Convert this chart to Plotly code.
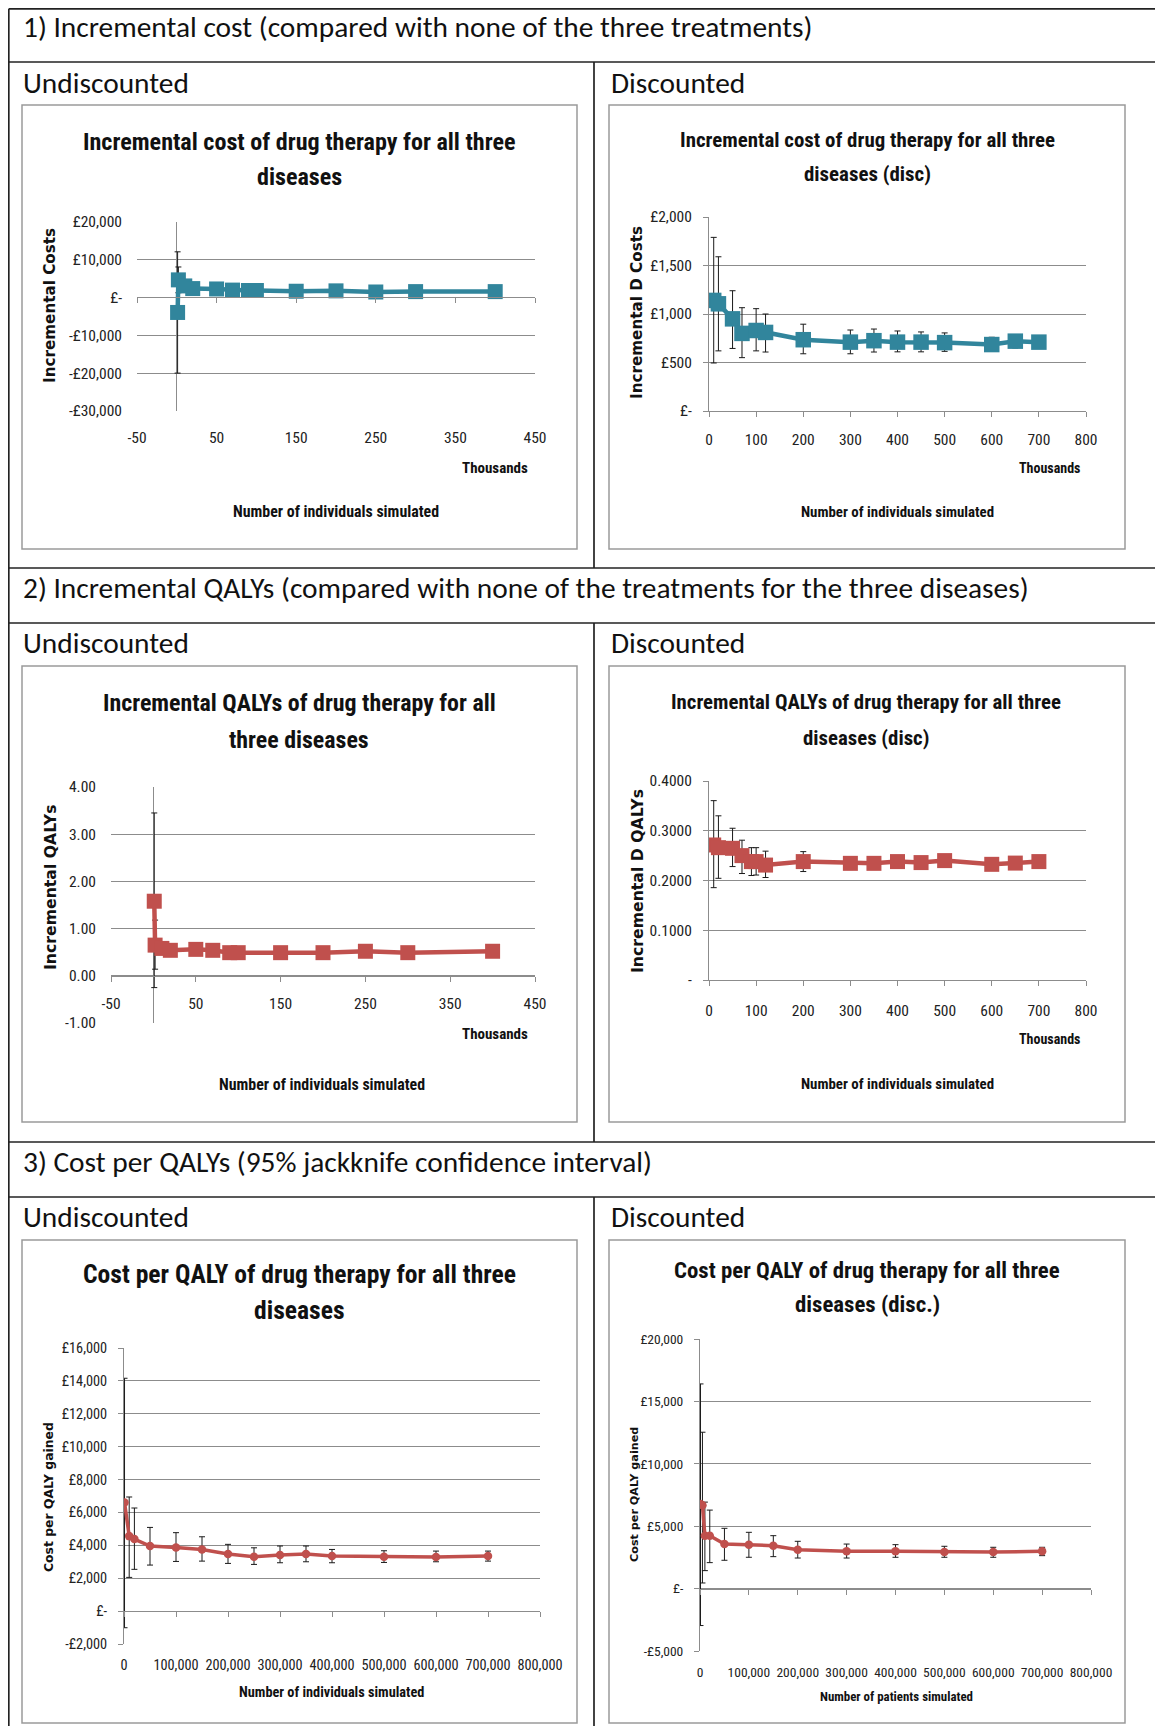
import plotly.graph_objects as go

# ---------------- data ----------------
# 1) Incremental cost, undiscounted (x in thousands)
x1 = [1, 2, 10, 20, 50, 70, 90, 100, 150, 200, 250, 300, 400]
y1 = [-4000, 4600, 3000, 2300, 2200, 1900, 1800, 1800, 1600, 1700, 1400, 1500, 1500]
up1 = [12000, 8000, 3600, 2900, 2800, 2400, 2300, 2300, 2000, 2100, 1800, 1900, 1900]
lo1 = [-20000, 1200, 2400, 1700, 1600, 1400, 1300, 1300, 1200, 1300, 1000, 1100, 1100]

# 1) Incremental cost, discounted
x2 = [10, 20, 50, 70, 100, 120, 200, 300, 350, 400, 450, 500, 600, 650, 700]
y2 = [1140, 1105, 950, 800, 830, 810, 735, 710, 725, 710, 710, 705, 685, 720, 710]
up2 = [1790, 1590, 1240, 1065, 1055, 1000, 895, 835, 845, 825, 815, 805, 760, 760, 750]
lo2 = [495, 620, 645, 550, 620, 608, 590, 590, 608, 610, 610, 615, 620, 650, 670]

# 2) Incremental QALYs, undiscounted
x3 = [1, 2, 10, 20, 50, 70, 90, 100, 150, 200, 250, 300, 400]
y3 = [1.58, 0.65, 0.58, 0.54, 0.56, 0.54, 0.49, 0.49, 0.49, 0.49, 0.52, 0.49, 0.52]
up3 = [3.45, 1.18, 0.68, 0.62, 0.63, 0.60, 0.55, 0.55, 0.54, 0.54, 0.57, 0.54, 0.56]
lo3 = [-0.25, 0.14, 0.48, 0.46, 0.49, 0.48, 0.43, 0.43, 0.44, 0.44, 0.47, 0.44, 0.48]

# 2) Incremental QALYs, discounted
x4 = [10, 20, 50, 70, 90, 100, 120, 200, 300, 350, 400, 450, 500, 600, 650, 700]
y4 = [0.2714, 0.266, 0.2647, 0.250, 0.238, 0.238, 0.231, 0.238, 0.2345, 0.2345, 0.238, 0.236, 0.240, 0.2325, 0.235, 0.238]
up4 = [0.3605, 0.330, 0.305, 0.281, 0.266, 0.266, 0.259, 0.258, 0.247, 0.247, 0.250, 0.247, 0.250, 0.242, 0.245, 0.247]
lo4 = [0.1856, 0.2044, 0.228, 0.214, 0.210, 0.211, 0.206, 0.218, 0.222, 0.222, 0.226, 0.225, 0.230, 0.223, 0.226, 0.229]

# 3) Cost per QALY, undiscounted
x5 = [1000, 10000, 20000, 50000, 100000, 150000, 200000, 250000, 300000, 350000, 400000, 500000, 600000, 700000]
y5 = [6600, 4560, 4380, 3960, 3870, 3750, 3470, 3310, 3410, 3470, 3350, 3310, 3290, 3350]
up5 = [14160, 6940, 6270, 5090, 4770, 4520, 4060, 3850, 3960, 3960, 3750, 3670, 3650, 3650]
lo5 = [-1010, 2050, 2540, 2800, 3020, 3040, 2900, 2840, 2940, 3000, 2940, 2960, 3000, 3040]

# 3) Cost per QALY, discounted
x6 = [1000, 5000, 10000, 20000, 50000, 100000, 150000, 200000, 300000, 400000, 500000, 600000, 700000]
y6 = [6770, 6670, 4240, 4240, 3570, 3520, 3440, 3120, 2990, 2990, 2930, 2930, 2990]
up6 = [16400, 12530, 6930, 6290, 4830, 4510, 4240, 3790, 3570, 3520, 3390, 3310, 3310]
lo6 = [-2960, 450, 1440, 2080, 2270, 2510, 2560, 2450, 2450, 2510, 2510, 2510, 2640]

# tick labels
xt_undisc = [-50, 50, 150, 250, 350, 450]
xt_disc = [0, 100, 200, 300, 400, 500, 600, 700, 800]
xt_big = [0, 100000, 200000, 300000, 400000, 500000, 600000, 700000, 800000]
xt_big_text = ["0", "100,000", "200,000", "300,000", "400,000", "500,000", "600,000", "700,000", "800,000"]

yt1 = [-30000, -20000, -10000, 0, 10000, 20000]
yt1_text = ["-£30,000", "-£20,000", "-£10,000", "£-", "£10,000", "£20,000"]
yt2 = [0, 500, 1000, 1500, 2000]
yt2_text = ["£-", "£500", "£1,000", "£1,500", "£2,000"]
yt3 = [-1, 0, 1, 2, 3, 4]
yt3_text = ["-1.00", "0.00", "1.00", "2.00", "3.00", "4.00"]
yt4 = [0, 0.1, 0.2, 0.3, 0.4]
yt4_text = ["-", "0.1000", "0.2000", "0.3000", "0.4000"]
yt5 = [-2000, 0, 2000, 4000, 6000, 8000, 10000, 12000, 14000, 16000]
yt5_text = ["-£2,000", "£-", "£2,000", "£4,000", "£6,000", "£8,000", "£10,000", "£12,000", "£14,000", "£16,000"]
yt6 = [-5000, 0, 5000, 10000, 15000, 20000]
yt6_text = ["-£5,000", "£-", "£5,000", "£10,000", "£15,000", "£20,000"]

# ---------------- style ----------------
PAGE_W, PAGE_H = 1163, 1736
OFF = 8                      # default page margin of the html body
W, H = PAGE_W - 2 * OFF, PAGE_H - 2 * OFF - 2
TEAL = "#31859C"
RED = "#C0504D"
GRID = "#8c8c8c"
BOXC = "#9a9a9a"
NARROW = "Liberation Sans Narrow, Arial Narrow, Roboto Condensed, Roboto, sans-serif"
BODY = "Carlito, Calibri, Lato, sans-serif"
VERD = "Verdana, DejaVu Sans, sans-serif"


def fx(px):
    return min(max((px - OFF) / W, 0.0), 1.0)


def fy(py):
    return min(max(1 - (py - OFF) / H, 0.0), 1.0)


def ref(p, n):
    return p if n == 1 else f"{p}{n}"


def lname(p, n):
    return f"{p}axis" if n == 1 else f"{p}axis{n}"


charts = [
    dict(x=x1, y=y1, up=up1, lo=lo1, color=TEAL, symbol="square", ms=15, lw=4.5,
         xr=[-50, 450], xtv=xt_undisc, xtt=[str(v) for v in xt_undisc],
         yr=[-30000, 20000], ytv=yt1, ytt=yt1_text,
         plot=(137, 221.5, 535, 411), mode="split", yzero_inside=True,
         title=["Incremental cost of drug therapy for all three", "diseases"], tx=299, ty=(142, 177), tsize=24.1,
         ytitle="Incremental Costs", ytx=50, yty=306, ytsize=15.2,
         xtitle="Number of individuals simulated", xtx=336, xty=512, xtsize=15.9,
         thousands=(495, 468), thsize=15, tkfs=15.5, xlab_gap=15),
    dict(x=x2, y=y2, up=up2, lo=lo2, color=TEAL, symbol="square", ms=15.5, lw=4.5,
         xr=[0, 800], xtv=xt_disc, xtt=[str(v) for v in xt_disc],
         yr=[0, 2000], ytv=yt2, ytt=yt2_text,
         plot=(709, 217, 1086, 411), mode="bottom", yzero_inside=False,
         title=["Incremental cost of drug therapy for all three", "diseases (disc)"], tx=867, ty=(140, 174), tsize=20.9,
         ytitle="Incremental D Costs", ytx=637, yty=313, ytsize=15.2,
         xtitle="Number of individuals simulated", xtx=897, xty=512, xtsize=14.9,
         thousands=(1049, 468), thsize=14, tkfs=15.5, xlab_gap=9),
    dict(x=x3, y=y3, up=up3, lo=lo3, color=RED, symbol="square", ms=15, lw=4.5,
         xr=[-50, 450], xtv=xt_undisc, xtt=[str(v) for v in xt_undisc],
         yr=[-1, 4], ytv=yt3, ytt=yt3_text,
         plot=(111, 787, 535, 1023), mode="zero_labels", yzero_inside=True,
         title=["Incremental QALYs of drug therapy for all", "three diseases"], tx=299, ty=(703, 740), tsize=23.9,
         ytitle="Incremental QALYs", ytx=50, yty=888, ytsize=15.7,
         xtitle="Number of individuals simulated", xtx=322, xty=1084, xtsize=15.9,
         thousands=(495, 1034), thsize=15, tkfs=15.5, xlab_gap=9),
    dict(x=x4, y=y4, up=up4, lo=lo4, color=RED, symbol="square", ms=15, lw=4.5,
         xr=[0, 800], xtv=xt_disc, xtt=[str(v) for v in xt_disc],
         yr=[0, 0.4], ytv=yt4, ytt=yt4_text,
         plot=(709, 781, 1086, 980), mode="bottom", yzero_inside=False,
         title=["Incremental QALYs of drug therapy for all three", "diseases (disc)"], tx=866, ty=(702, 738), tsize=20.8,
         ytitle="Incremental D QALYs", ytx=637, yty=881, ytsize=15.7,
         xtitle="Number of individuals simulated", xtx=897, xty=1084, xtsize=14.9,
         thousands=(1049, 1039), thsize=14, tkfs=15.5, xlab_gap=11),
    dict(x=x5, y=y5, up=up5, lo=lo5, color=RED, symbol="circle", ms=8.5, lw=3.5,
         xr=[0, 800000], xtv=xt_big, xtt=xt_big_text,
         yr=[-2000, 16000], ytv=yt5, ytt=yt5_text,
         plot=(124, 1348, 540, 1644), mode="split", yzero_inside=False,
         title=["Cost per QALY of drug therapy for all three", "diseases"], tx=299, ty=(1274, 1310), tsize=25.6,
         ytitle="Cost per QALY gained", ytx=48, yty=1497, ytsize=12.4,
         xtitle="Number of individuals simulated", xtx=331, xty=1692, xtsize=14.3,
         thousands=None, thsize=14, tkfs=14.3, xlab_gap=11),
    dict(x=x6, y=y6, up=up6, lo=lo6, color=RED, symbol="circle", ms=8.5, lw=3.5,
         xr=[0, 800000], xtv=xt_big, xtt=xt_big_text,
         yr=[-5000, 20000], ytv=yt6, ytt=yt6_text,
         plot=(700, 1339, 1091, 1651), mode="split", yzero_inside=False,
         title=["Cost per QALY of drug therapy for all three", "diseases (disc.)"], tx=867, ty=(1270, 1304), tsize=22.8,
         ytitle="Cost per QALY gained", ytx=634, yty=1495, ytsize=11.2,
         xtitle="Number of patients simulated", xtx=896, xty=1696, xtsize=12.9,
         thousands=None, thsize=14, tkfs=13.5, xlab_gap=11),
]

fig = go.Figure()
annotations = []
shapes = []

for i, c in enumerate(charts, start=1):
    xa, ya = ref("x", i), ref("y", i)
    pl, pt, pr, pb = c["plot"]
    xdom = [fx(pl), fx(pr)]
    ydom = [fy(pb), fy(pt)]
    y0, y1_ = c["yr"]
    # paper position of y = 0
    zero_pos = ydom[0] + (0 - y0) / (y1_ - y0) * (ydom[1] - ydom[0])

    eplus = [u - v for u, v in zip(c["up"], c["y"])]
    eminus = [v - l for v, l in zip(c["y"], c["lo"])]
    fig.add_trace(go.Scatter(
        x=c["x"], y=c["y"], xaxis=xa, yaxis=ya, mode="lines+markers",
        line=dict(color=c["color"], width=c["lw"]),
        marker=dict(symbol=c["symbol"], size=c["ms"], color=c["color"]),
        error_y=dict(type="data", symmetric=False, array=eplus, arrayminus=eminus,
                     color="#1a1a1a", thickness=1, width=3),
        showlegend=False, hoverinfo="x+y"))

    tickfont = dict(family=NARROW, size=c["tkfs"], color="#222")
    xmain = dict(domain=xdom, range=c["xr"], tickvals=c["xtv"], ticktext=c["xtt"],
                 showgrid=False, zeroline=c["yzero_inside"], zerolinecolor=GRID, zerolinewidth=1,
                 tickfont=tickfont, fixedrange=True, automargin=False)
    ymain = dict(domain=ydom, range=c["yr"], tickvals=c["ytv"], ticktext=c["ytt"],
                 showgrid=True, gridcolor=GRID, gridwidth=1, zeroline=False,
                 tickfont=tickfont, anchor=xa, fixedrange=True, ticklabelstandoff=8, automargin=False)
    if c["yzero_inside"]:
        ymain.update(showline=False, ticks="", ticklabelstandoff=14)
    else:
        ymain.update(showline=True, linecolor=GRID, linewidth=1, ticks="outside",
                     ticklen=5, tickcolor=GRID, tickwidth=1)

    if c["mode"] == "bottom":
        xmain.update(anchor=ya, showline=True, linecolor=GRID, linewidth=1, ticks="outside",
                     ticklen=5, tickcolor=GRID, ticklabelstandoff=c["xlab_gap"])
    elif c["mode"] == "zero_labels":
        xmain.update(anchor="free", position=zero_pos, showline=True, linecolor=GRID, linewidth=1,
                     ticks="outside", ticklen=5, tickcolor=GRID, ticklabelstandoff=c["xlab_gap"])
    else:  # split: labels at bottom, axis line with ticks at y = 0
        xmain.update(anchor=ya, showline=False, ticks="", ticklabelstandoff=c["xlab_gap"])
        k = i + 6
        fig.add_trace(go.Scatter(x=[], y=[], xaxis=ref("x", k), yaxis=ya, showlegend=False,
                                 hoverinfo="skip"))
        fig.layout[lname("x", k)] = dict(
            overlaying=xa, anchor="free", position=zero_pos, range=c["xr"], tickvals=c["xtv"],
            showticklabels=False, showgrid=False, zeroline=False, showline=True, linecolor=GRID,
            linewidth=1, ticks="outside", ticklen=5, tickcolor=GRID, fixedrange=True, automargin=False)

    fig.layout[lname("x", i)] = xmain
    fig.layout[lname("y", i)] = ymain

    # chart title (two lines)
    for line_txt, ty in zip(c["title"], c["ty"]):
        annotations.append(dict(text=f"<b>{line_txt}</b>", x=fx(c["tx"]), y=fy(ty), xref="paper",
                                yref="paper", showarrow=False, xanchor="center", yanchor="middle",
                                font=dict(family=NARROW, size=c["tsize"], color="#111")))
    annotations.append(dict(text=f"<b>{c['ytitle']}</b>", x=fx(c["ytx"]), y=fy(c["yty"]),
                            xref="paper", yref="paper", showarrow=False, textangle=-90,
                            xanchor="center", yanchor="middle",
                            font=dict(family=VERD, size=c["ytsize"], color="#111")))
    annotations.append(dict(text=f"<b>{c['xtitle']}</b>", x=fx(c["xtx"]), y=fy(c["xty"]),
                            xref="paper", yref="paper", showarrow=False, xanchor="center",
                            yanchor="middle", font=dict(family=NARROW, size=c["xtsize"], color="#111")))
    if c["thousands"]:
        tx_, ty_ = c["thousands"]
        annotations.append(dict(text="<b>Thousands</b>", x=fx(tx_), y=fy(ty_), xref="paper",
                                yref="paper", showarrow=False, xanchor="center", yanchor="middle",
                                font=dict(family=NARROW, size=c["thsize"], color="#111")))

# ---------------- table frame ----------------
LINE = "#222222"
EDGE_X = 0.8 / W
EDGE_Y = 1 - 0.8 / H
for yy in [6, 62, 568, 623, 1142, 1197]:
    yv = EDGE_Y if yy < OFF + 1 else fy(yy)
    shapes.append(dict(type="line", xref="paper", yref="paper", x0=EDGE_X, x1=1, y0=yv, y1=yv,
                       line=dict(color=LINE, width=1.7)))
shapes.append(dict(type="line", xref="paper", yref="paper", x0=EDGE_X, x1=EDGE_X, y0=EDGE_Y, y1=0,
                   line=dict(color=LINE, width=1.7)))
for a, b in [(62, 568), (623, 1142), (1197, 1736)]:
    shapes.append(dict(type="line", xref="paper", yref="paper", x0=fx(594), x1=fx(594), y0=fy(a),
                       y1=fy(b), line=dict(color=LINE, width=1.7)))

# chart boxes
for (l, t, r, b) in [(22, 105, 577, 549), (609, 105, 1125, 549), (22, 666, 577, 1122),
                     (609, 666, 1125, 1122), (22, 1240, 577, 1723), (609, 1240, 1125, 1723)]:
    shapes.append(dict(type="rect", xref="paper", yref="paper", x0=fx(l), x1=fx(r), y0=fy(b), y1=fy(t),
                       line=dict(color=BOXC, width=1.5), layer="below"))

# section texts
sections = [
    ("1) Incremental cost (compared with none of the three treatments)", 27, 83),
    ("2) Incremental QALYs (compared with none of the treatments for the three diseases)", 588, 643),
    ("3) Cost per QALYs (95% jackknife confidence interval)", 1162, 1217),
]
SEC_SIZE = 29.4
for txt, hy, sy in sections:
    annotations.append(dict(text=txt, x=fx(21), y=fy(hy), xref="paper", yref="paper", showarrow=False,
                            xanchor="left", yanchor="middle", font=dict(family=BODY, size=SEC_SIZE, color="#111")))
    annotations.append(dict(text="Undiscounted", x=fx(21), y=fy(sy), xref="paper", yref="paper",
                            showarrow=False, xanchor="left", yanchor="middle",
                            font=dict(family=BODY, size=SEC_SIZE, color="#111")))
    annotations.append(dict(text="Discounted", x=fx(609), y=fy(sy), xref="paper", yref="paper",
                            showarrow=False, xanchor="left", yanchor="middle",
                            font=dict(family=BODY, size=SEC_SIZE, color="#111")))

fig.update_layout(width=W, height=H, autosize=False,
                  margin=dict(l=0, r=0, t=0, b=0, pad=0, autoexpand=False),
                  paper_bgcolor="white", plot_bgcolor="white", showlegend=False,
                  annotations=annotations, shapes=shapes)

fig.write_html("out.html", config={"displayModeBar": False})
